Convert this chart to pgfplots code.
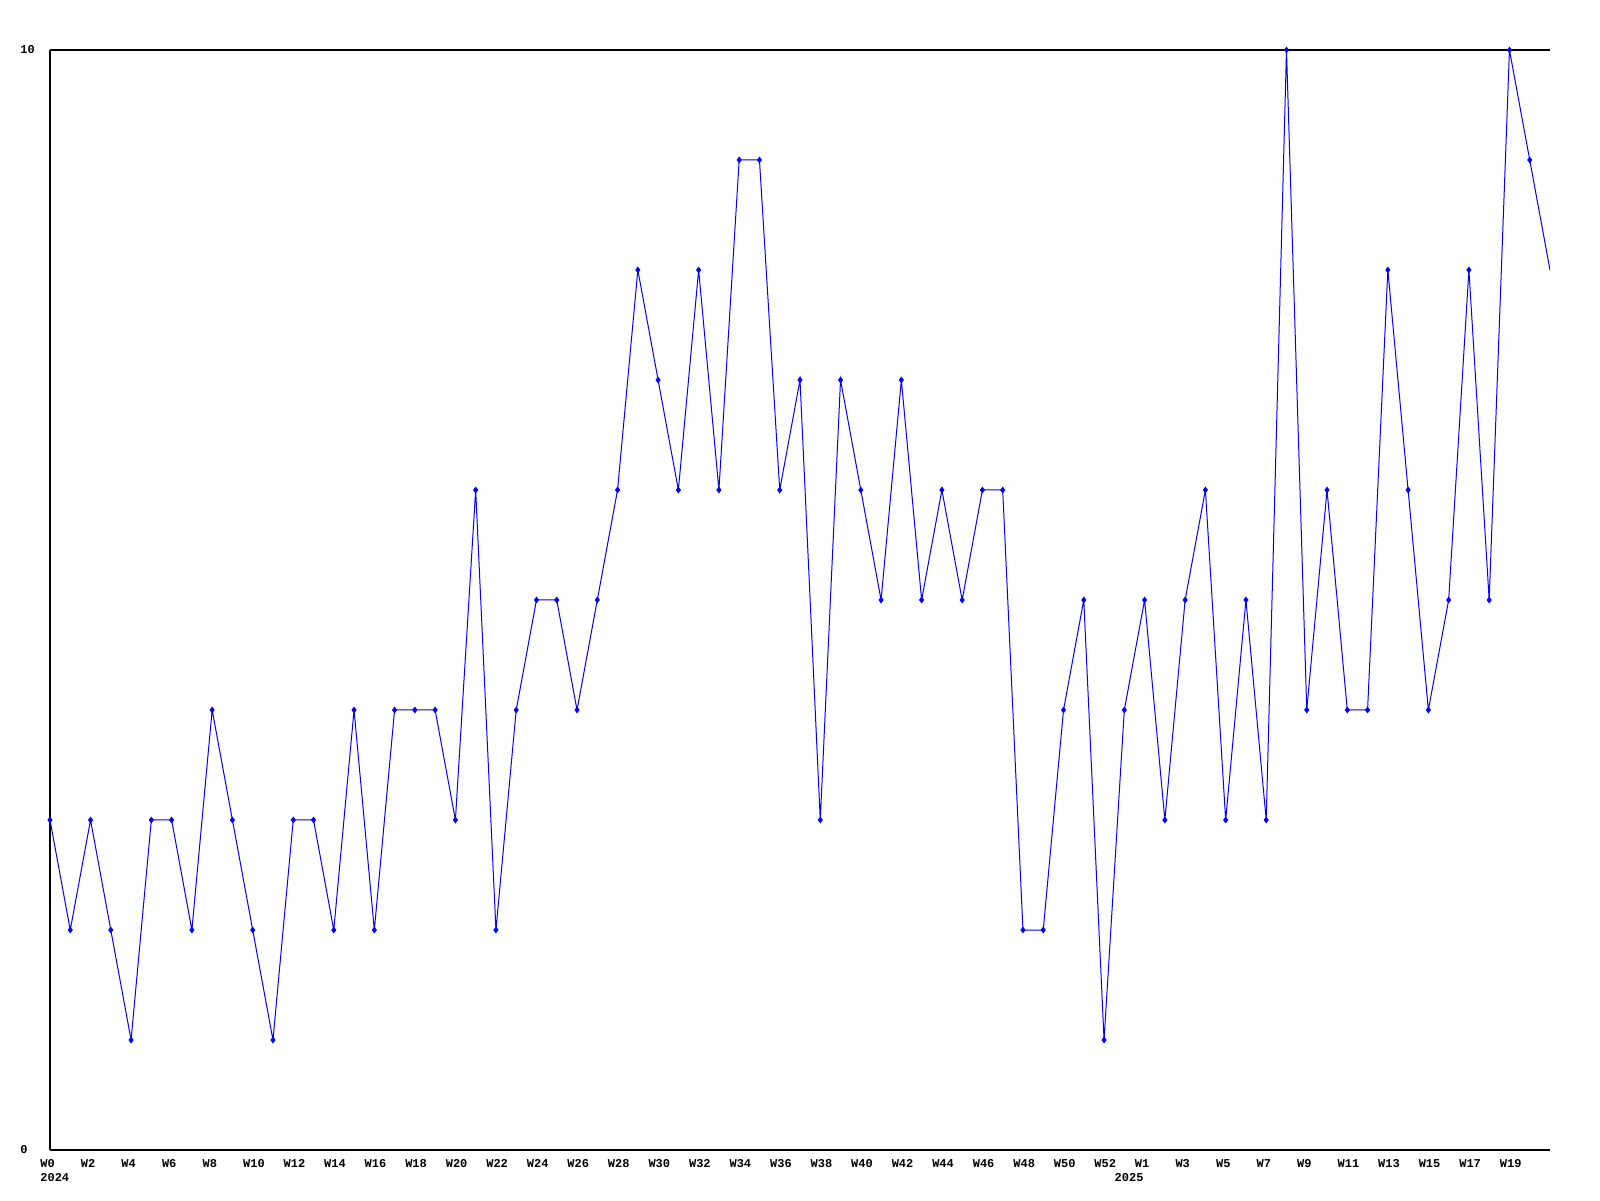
\documentclass[border=0pt]{standalone}
\usepackage{fontspec}
\setmonofont{Liberation Mono}
\usepackage{pgfplots}
\pgfplotsset{compat=1.18}

\definecolor{lineblue}{RGB}{0,0,255}

\begin{document}
\begin{tikzpicture}
\useasboundingbox (-25pt,-25pt) rectangle (775pt,575pt);
\begin{axis}[
    at={(0,0)}, anchor=south west,
    scale only axis,
    width=750pt, height=550pt,
    xmin=0, xmax=74, ymin=0, ymax=10,
    enlargelimits=false,
    axis lines*=left,
    axis line style={black, line width=0.7pt},
    ymajorgrids,
    grid style={black, line width=0.7pt},
    major tick length=0pt,
    ytick={0,10},
    yticklabels={0,10},
    xtick={0,2,...,52,53,54,56,...,72},
    xticklabels={{W0\\2024},W2,W4,W6,W8,W10,W12,W14,W16,W18,W20,W22,W24,W26,W28,W30,W32,W34,W36,W38,W40,W42,W44,W46,W48,W50,W52,
        {\vphantom{W}\\2025},W1,W3,W5,W7,W9,W11,W13,W15,W17,W19},
    tick label style={font=\ttfamily\bfseries\fontsize{6}{7}\selectfont, inner sep=0pt},
    xticklabel style={anchor=north west, align=left, xshift=-5pt, yshift=-4.5pt},
    yticklabel style={anchor=west, xshift=-15pt},
]
\addplot[color=lineblue, line width=0.5pt, mark=diamond*, mark size=1.3pt,
    mark indices={1,...,74}] coordinates {
    (0,3) (1,2) (2,3) (3,2) (4,1) (5,3) (6,3) (7,2) (8,4) (9,3)
    (10,2) (11,1) (12,3) (13,3) (14,2) (15,4) (16,2) (17,4) (18,4) (19,4)
    (20,3) (21,6) (22,2) (23,4) (24,5) (25,5) (26,4) (27,5) (28,6) (29,8)
    (30,7) (31,6) (32,8) (33,6) (34,9) (35,9) (36,6) (37,7) (38,3) (39,7)
    (40,6) (41,5) (42,7) (43,5) (44,6) (45,5) (46,6) (47,6) (48,2) (49,2)
    (50,4) (51,5) (52,1) (53,4) (54,5) (55,3) (56,5) (57,6) (58,3) (59,5)
    (60,3) (61,10) (62,4) (63,6) (64,4) (65,4) (66,8) (67,6) (68,4) (69,5)
    (70,8) (71,5) (72,10) (73,9) (74,8)
};
\end{axis}
\end{tikzpicture}
\end{document}
